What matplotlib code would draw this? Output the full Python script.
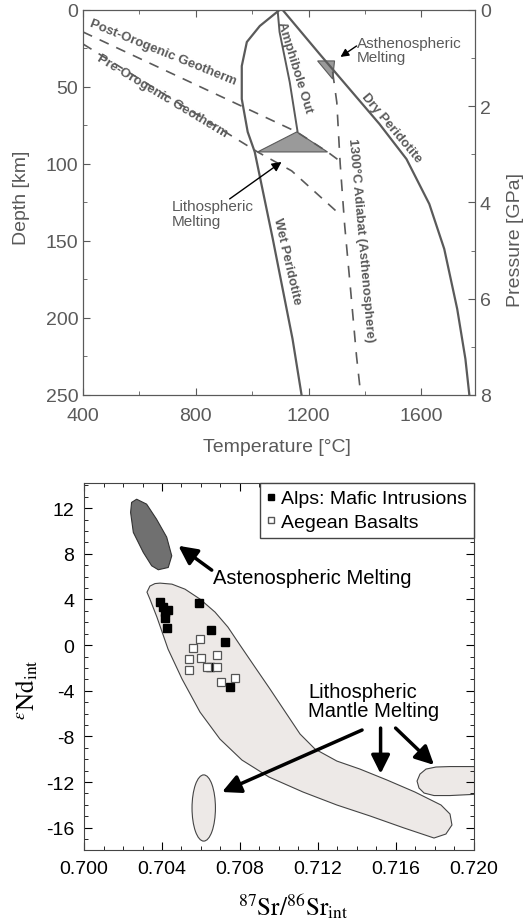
import matplotlib.pyplot as plt
from matplotlib.patches import Polygon, Ellipse
from matplotlib.lines import Line2D
from matplotlib.ticker import MultipleLocator

plt.rcParams['font.family'] = ['Liberation Sans', 'DejaVu Sans']
plt.rcParams['mathtext.fontset'] = 'stix'
plt.rcParams['axes.unicode_minus'] = False

# ---- top panel: temperature [C] vs depth [km]
temp_ticks = [400, 800, 1200, 1600]
dry_T = [1108, 1239, 1345, 1451, 1547, 1628, 1681, 1727, 1756, 1770]
dry_z = [0, 28.6, 51.3, 74.0, 96.8, 126.0, 155.2, 194.2, 226.6, 250]
wet_T = [1097, 1027, 981, 963, 963, 984, 1009, 1073, 1143, 1175]
wet_z = [0, 10.4, 20.8, 36.4, 57.8, 79.2, 92.2, 148.7, 213.6, 250]
amph_T = [1090, 1097, 1133, 1161]
amph_z = [0, 14.3, 46.8, 79.2]
post_T = [400, 1158, 1267, 1310]
post_z = [14.3, 79.2, 92.2, 98]
pre_T = [400, 1019, 1140, 1317]
pre_z = [22.1, 92.2, 104.5, 133.8]
adiab_T = [1285, 1300, 1312, 1328, 1348, 1370, 1385]
adiab_z = [40, 60, 100, 140, 180, 225, 250]
litho_T = [1019, 1158, 1267]
litho_z = [92.2, 79.2, 92.2]
asth_T = [1232, 1292, 1285]
asth_z = [33.1, 33.1, 44.8]

# ---- bottom panel: Sr-Nd isotopes
alps_sr = [0.70390, 0.70404, 0.70432, 0.70415, 0.70415, 0.70427,
           0.70591, 0.70650, 0.70721, 0.70749, 0.70648]
alps_nd = [3.77, 3.35, 3.09, 2.86, 2.36, 1.46, 3.73, 1.34, 0.29, -3.68, -1.95]
aeg_sr = [0.70595, 0.70561, 0.70598, 0.70537, 0.70540,
          0.70629, 0.70680, 0.70680, 0.70703, 0.70776]
aeg_nd = [0.53, -0.29, -1.11, -1.25, -2.22, -1.95, -1.95, -0.88, -3.21, -2.92]

# outline of the asthenospheric field
asth_sr = [0.70270, 0.70321, 0.70372, 0.70424, 0.70450, 0.70432, 0.70381,
           0.70347, 0.70304, 0.70253, 0.70239, 0.70244]
asth_nd = [12.78, 12.35, 11.03, 9.46, 7.82, 6.80, 6.60, 6.95, 8.12, 9.87, 11.62, 12.5]

# outline of the lithospheric mantle band
band_sr = [0.70390, 0.70451, 0.70518, 0.70595, 0.70672, 0.70738, 0.70800, 0.70877,
           0.70954, 0.71036, 0.71108, 0.71185, 0.71297, 0.71415, 0.71554, 0.71697,
           0.71831, 0.71877, 0.71887, 0.71856, 0.71795, 0.71641, 0.71467, 0.71297,
           0.71123, 0.70949, 0.70810, 0.70697, 0.70595, 0.70503, 0.70431, 0.70374,
           0.70338, 0.70323, 0.70338, 0.70364]
band_nd = [5.43, 5.34, 4.90, 4.03, 2.89, 1.58, 0.00, -1.93,
           -3.85, -5.95, -7.79, -9.11, -10.16, -10.86, -11.82, -12.87,
           -14.01, -14.80, -15.76, -16.55, -16.90, -16.02, -14.97, -14.01,
           -12.87, -11.56, -10.07, -8.23, -5.87, -2.98, -0.35, 2.45,
           4.03, 4.64, 5.17, 5.39]

# outline of the field cut by the right axis
right_sr = [0.71708, 0.71723, 0.71754, 0.71805, 0.71877, 0.72031,
            0.72031, 0.71877, 0.71795, 0.71744, 0.71718]
right_nd = [-11.91, -11.30, -10.86, -10.68, -10.64, -10.64,
            -13.05, -13.18, -13.18, -12.96, -12.52]

# small ellipse field: centre, width, height
small_field = (0.70614, -14.27, 0.0012, 5.8)

# arrows (tail -> head)
litho_tails = [(0.71426, -7.44), (0.71521, -7.27), (0.71598, -7.27)]
litho_heads = [(0.70708, -12.87), (0.71521, -11.27), (0.71795, -10.5)]

fig = plt.figure(figsize=(5.29, 9.2), dpi=100)
gray = '#5a5a5a'

# ================= top panel
ax1 = fig.add_axes([0.1569, 0.5696, 0.741, 0.4185])
ax1.plot(dry_T, dry_z, color=gray, lw=1.6)
ax1.plot(wet_T, wet_z, color=gray, lw=1.6)
ax1.plot(amph_T, amph_z, color=gray, lw=1.4)
ax1.plot(post_T, post_z, color=gray, lw=1.2, ls=(0, (6, 5)))
ax1.plot(pre_T, pre_z, color=gray, lw=1.2, ls=(0, (6, 5)))
ax1.plot(adiab_T, adiab_z, color=gray, lw=1.2, ls=(0, (7, 6)))
ax1.fill(litho_T, litho_z, color='#9a9a9a', ec=gray, lw=0.8)
ax1.fill(asth_T, asth_z, color='#9a9a9a', ec=gray, lw=0.8)

ax1.set_xlim(400, 1790)
ax1.set_ylim(250, 0)
ax1.set_xticks(temp_ticks)
ax1.set_xticklabels([str(t) for t in temp_ticks])
ax1.xaxis.set_minor_locator(MultipleLocator(200))
ax1.yaxis.set_major_locator(MultipleLocator(50))
ax1.yaxis.set_minor_locator(MultipleLocator(25))
ax1.tick_params(which='both', direction='in', top=True, colors=gray,
                labelsize=14, labelcolor=gray)
ax1.tick_params(axis='x', pad=9)
ax1.tick_params(which='major', length=5)
ax1.tick_params(which='minor', length=3)
for s in ax1.spines.values():
    s.set_color(gray)

ax2 = ax1.twinx()
ax2.set_ylim(8, 0)
ax2.yaxis.set_major_locator(MultipleLocator(2))
ax2.yaxis.set_minor_locator(MultipleLocator(1))
ax2.tick_params(which='both', direction='in', colors=gray, labelsize=14,
                labelcolor=gray)
ax2.tick_params(which='major', length=5)
ax2.tick_params(which='minor', length=3)
for s in ax2.spines.values():
    s.set_color(gray)

ax1.set_xlabel('Temperature [°C]', fontsize=14, color=gray)
ax1.xaxis.set_label_coords(0.495, -0.113)
ax1.set_ylabel('Depth [km]', fontsize=14, color=gray)
ax1.yaxis.set_label_coords(-0.135, 0.514)
ax2.set_ylabel('Pressure [GPa]', fontsize=14, color=gray, rotation=90)
ax2.yaxis.set_label_coords(1.082, 0.405)

tk = dict(color=gray, fontsize=9.5, ha='center', va='center', fontweight='bold')
ax1.text(683, 27.5, 'Post-Orogenic Geotherm', rotation=-22, **tk)
ax1.text(683, 55.8, 'Pre-Orogenic Geotherm', rotation=-31, **tk)
ax1.text(1150, 37, 'Amphibole Out', rotation=-73, **tk)
ax1.text(1494, 76, 'Dry Peridotite', rotation=-50, **tk)
ax1.text(1122, 163, 'Wet Peridotite', rotation=-77, **tk)
ax1.text(1384, 149, '1300°C Adiabat (Asthenosphere)', rotation=-85, **tk)

ax1.text(1370, 26, 'Asthenospheric\nMelting', color=gray, fontsize=11,
         ha='left', va='center', linespacing=1.0)
ax1.annotate('', xy=(1313, 30.5), xytext=(1370, 23.4),
             arrowprops=dict(arrowstyle='-|>', color='black', lw=1.0,
                             mutation_scale=12, shrinkA=0, shrinkB=0))
ax1.text(715, 132, 'Lithospheric\nMelting', color=gray, fontsize=11,
         ha='left', va='center', linespacing=1.1)
ax1.annotate('', xy=(1104, 98.7), xytext=(920, 122.7),
             arrowprops=dict(arrowstyle='-|>', color='black', lw=1.0,
                             mutation_scale=14, shrinkA=0, shrinkB=0))

# ================= bottom panel
ax = fig.add_axes([0.1588, 0.075, 0.7372, 0.3989])
ax.add_patch(Polygon(list(zip(band_sr, band_nd)), closed=True,
                     fc='#ede9e7', ec='#444444', lw=0.8))
ax.add_patch(Polygon(list(zip(right_sr, right_nd)), closed=True,
                     fc='#ede9e7', ec='#444444', lw=0.8))
ax.add_patch(Polygon(list(zip(asth_sr, asth_nd)), closed=True,
                     fc='#707070', ec='#333333', lw=0.8))
cx, cy, w, h = small_field
ax.add_patch(Ellipse((cx, cy), w, h, fc='#ede9e7', ec='#444444', lw=0.8))

ax.plot(alps_sr, alps_nd, 's', ms=5.5, mfc='black', mec='black', ls='')
ax.plot(aeg_sr, aeg_nd, 's', ms=5.5, mfc='white', mec='#555555', mew=0.9, ls='')

arrow = dict(arrowstyle='-|>', color='black', lw=2.5, mutation_scale=28,
             shrinkA=0, shrinkB=0)
ax.annotate('', xy=(0.70484, 8.70), xytext=(0.70655, 6.57), arrowprops=arrow)
for t, h in zip(litho_tails, litho_heads):
    ax.annotate('', xy=h, xytext=t, arrowprops=arrow)

ax.text(0.70662, 5.95, 'Astenospheric Melting', fontsize=14.5, ha='left',
        va='center')
ax.text(0.71149, -4.9, 'Lithospheric\nMantle Melting', fontsize=14.5,
        ha='left', va='center', linespacing=1.05)

ax.set_xlim(0.700, 0.720)
ax.set_ylim(-17.95, 14.2)
ax.xaxis.set_major_locator(MultipleLocator(0.004))
ax.xaxis.set_minor_locator(MultipleLocator(0.001))
ax.yaxis.set_major_locator(MultipleLocator(4))
ax.yaxis.set_minor_locator(MultipleLocator(1))
ax.set_xticklabels([f'{v:.3f}' for v in ax.get_xticks()])
ax.tick_params(which='both', direction='in', top=True, right=True,
               labelsize=14, pad=7)
ax.tick_params(which='major', length=6)
ax.tick_params(which='minor', length=3)
for s in ax.spines.values():
    s.set_color('#444444')

ax.set_xlabel(r'$^{87}\mathrm{Sr}/^{86}\mathrm{Sr}_{\mathrm{int}}$', fontsize=18)
ax.xaxis.set_label_coords(0.536, -0.112)
ax.set_ylabel(r'$^{\varepsilon}\mathrm{Nd}_{\mathrm{int}}$', fontsize=18)
ax.yaxis.set_label_coords(-0.113, 0.44)

handles = [Line2D([], [], marker='s', ls='', ms=4.5, mfc='black', mec='black'),
           Line2D([], [], marker='s', ls='', ms=4.5, mfc='white', mec='#555555')]
ax.legend(handles, ['Alps: Mafic Intrusions', 'Aegean Basalts'], loc='upper right',
          fontsize=14, fancybox=False, edgecolor='#444444', framealpha=1,
          borderaxespad=0, handlelength=0.5, handletextpad=0.25,
          labelspacing=0.3, borderpad=0.35)

fig.savefig('out.png', dpi=100)
